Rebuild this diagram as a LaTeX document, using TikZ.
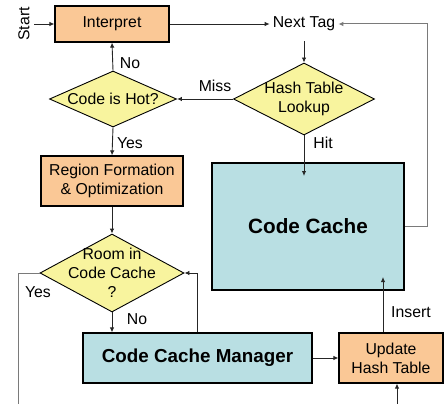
\documentclass[tikz,border=0pt]{standalone}
\usepackage{fontspec}
\setmainfont{Liberation Sans}
\usetikzlibrary{shapes.geometric,arrows.meta}
\definecolor{boxorange}{HTML}{FAC896}
\definecolor{diayellow}{HTML}{F8F49E}
\definecolor{cacheblue}{HTML}{B9DFE3}
\definecolor{lineblack}{HTML}{262626}
\definecolor{linegray}{HTML}{7A7A7A}
\tikzset{
  txt/.style={font=\fontsize{15.8}{19}\selectfont, text=black},
  procbox/.style={draw=black, line width=1.2pt, fill=boxorange, inner sep=0pt, align=center, txt},
  cachebox/.style={draw=black, line width=1.2pt, fill=cacheblue, inner sep=0pt, align=center},
  decision/.style={diamond, draw=black, line width=0.9pt, fill=diayellow, inner sep=0pt, aspect=2},
  conn/.style={draw=lineblack, line width=0.9pt, -{Latex[length=5pt,width=4.5pt]}},
  plainconn/.style={draw=lineblack, line width=0.9pt},
  grayconn/.style={draw=linegray, line width=1pt},
  lbl/.style={txt, inner sep=0pt}
}
\begin{document}
\begin{tikzpicture}[x=1pt,y=-1pt]
\useasboundingbox (0,0) rectangle (445,404);
% nodes
\node[procbox, minimum width=114pt, minimum height=36pt] (interp) at (112,24) {Interpret};
\node[txt, inner xsep=3pt, inner ysep=0pt, minimum height=34pt] (next) at (304,24) {Next Tag};
\node[decision, minimum width=141pt, minimum height=72pt] (hash) at (304,99) {};
\node[txt, align=center] (hashtxt) at (304,99) {Hash Table\\Lookup};
\node[decision, minimum width=127pt, minimum height=56pt] (hot) at (113,99) {};
\node[txt] (hottxt) at (113,99) {Code is Hot?};
\node[procbox, minimum width=142pt, minimum height=50pt] (region) at (112,181) {Region Formation\\\& Optimization};
\node[decision, minimum width=144pt, minimum height=78pt] (room) at (112,273) {};
\node[txt, align=center] (roomtxt) at (112,273) {Room in\\Code Cache\\?};
\node[cachebox, line width=2pt, minimum width=192pt, minimum height=127pt, font=\fontsize{20.7}{24}\selectfont\bfseries] (cache) at (308,226.5) {Code Cache};
\node[cachebox, minimum width=229pt, minimum height=50pt, font=\fontsize{18.8}{22}\selectfont\bfseries] (ccm) at (197.5,358) {Code Cache Manager};
\node[procbox, minimum width=104pt, minimum height=50pt] (update) at (391,358) {Update\\Hash Table};
% coordinates
\coordinate (startpt) at (34,24);
\coordinate (retcorner) at (427,226.5);
\coordinate (hitend) at (304,176);
\coordinate (yesleft) at (18,273);
\coordinate (yesbottom) at (18,404);
\coordinate (insend) at (383,277);
\coordinate (bottomin) at (397,404);
% labels
\node[lbl, rotate=90] (startlbl) at (24,24) {Start};
\node[lbl] (misslbl) at (215,86) {Miss};
\node[lbl] (nolbl1) at (130,63) {No};
\node[lbl] (hitlbl) at (323,143) {Hit};
\node[lbl] (yeslbl1) at (130,143) {Yes};
\node[lbl] (yeslbl2) at (38,292) {Yes};
\node[lbl] (nolbl2) at (137,319) {No};
\node[lbl] (inslbl) at (411,312) {Insert};
% connectors
\draw[conn] (startpt) -- (interp.west);
\draw[conn] (interp.east) -- (next.west);
\draw[grayconn, -{Latex[length=5pt,width=4.5pt]}] (cache.east) -- (retcorner) |- (next.east);
\draw[conn] (next.south) -- (hash.north);
\draw[conn] (hash.west) -- (hot.east);
\draw[conn] (hot.north) -- (interp.south);
\draw[conn] (hash.south) -- (hitend);
\draw[conn] (hot.south) -- (region.north);
\draw[conn] (region.south) -- (room.north);
\draw[grayconn] (room.west) -- (yesleft) -- (yesbottom);
\draw[conn] (room.south) -- (room.south |- ccm.north);
\draw[conn] (ccm.north) |- (room.east);
\draw[conn] (ccm.east) -- (update.west);
\draw[conn] (insend |- update.north) -- (insend);
\draw[conn] (bottomin) -- (bottomin |- update.south);
\end{tikzpicture}
\end{document}
